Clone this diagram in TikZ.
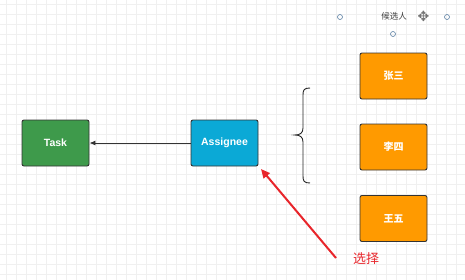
\documentclass[tikz,border=0pt]{standalone}
\usepackage{fontspec}
\setmainfont{Liberation Sans}
\newfontfamily\cjk{Noto Sans CJK SC}
\newfontfamily\dejavu{DejaVu Sans}
\usetikzlibrary{arrows.meta}
\definecolor{taskgreen}{HTML}{3E9A4B}
\definecolor{asgblue}{HTML}{0BA9D6}
\definecolor{candorange}{HTML}{FF9A00}
\definecolor{gridc}{HTML}{F0F0F0}
\definecolor{handle}{HTML}{5B7FA3}
\definecolor{arrowred}{HTML}{E8252B}
\tikzset{
  box/.style={draw=black!80, line width=0.9pt, rounded corners=2pt, minimum width=67pt, minimum height=46pt, inner sep=0pt, text=white, font=\bfseries\fontsize{10.5}{12}\selectfont},
  cbox/.style={box, fill=candorange, font=\cjk\bfseries\fontsize{10}{12}\selectfont},
  hdl/.style={draw=handle, line width=0.6pt, circle, minimum size=5pt, inner sep=0pt}
}
\begin{document}
\begin{tikzpicture}[x=1pt,y=-1pt]
\fill[white] (0,0) rectangle (465,279);
\useasboundingbox (0,0) rectangle (465,279);
\draw[gridc, line width=0.5pt, step=10pt, shift={(6pt,-4pt)}] (-6,-6) grid (470,290);
% nodes
\node[box, fill=taskgreen] (task) at (55.5,143) {Task};
\node[box, fill=asgblue] (asg) at (224.5,143) {Assignee};
\node[cbox] (zs) at (393.5,76) {张三};
\node[cbox] (ls) at (393.5,147) {李四};
\node[cbox] (ww) at (393.5,218.5) {王五};
% connector
\draw[-{Latex[length=6pt,width=5pt]}, line width=0.9pt, black!80] (asg) -- (task);
% brace
\draw[black!85, line width=0.9pt] (310,88) .. controls (304,88) and (303,90) .. (303,95) -- (303,128) .. controls (303,133) and (300,135) .. (295,135) .. controls (300,135) and (303,137) .. (303,142) -- (303,176) .. controls (303,181) and (304,183) .. (310,183);
% candidate label with handles
\node[font=\cjk\fontsize{8.5}{10}\selectfont, text=black!75] (lbl) at (394,16.5) {候选人};
\node[hdl] (h1) at (340,17) {};
\node[hdl] (h2) at (447,17) {};
\node[hdl] (h3) at (393,34) {};
\node[font=\dejavu\fontsize{14}{15}\selectfont, text=black!55] (mv) at (423.5,16.5) {✥};
% red arrow
\coordinate (rtail) at (336,258);
\coordinate (rtip) at (261,169);
\draw[arrowred, line width=2pt, -{Triangle[length=9pt,width=8pt]}] (rtail) -- (rtip);
\node[font=\cjk\fontsize{13}{14}\selectfont, text=arrowred] (sel) at (366,259) {选择};
\end{tikzpicture}
\end{document}
